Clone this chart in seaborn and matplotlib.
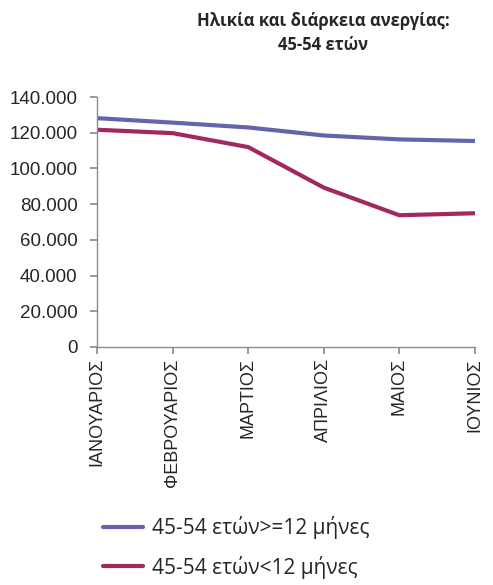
import matplotlib
matplotlib.use("Agg")
import matplotlib.pyplot as plt
import seaborn as sns
import pandas as pd
from matplotlib.ticker import FuncFormatter, MultipleLocator
from matplotlib.lines import Line2D

months = ["ΙΑΝΟΥΑΡΙΟΣ", "ΦΕΒΡΟΥΑΡΙΟΣ", "ΜΑΡΤΙΟΣ", "ΑΠΡΙΛΙΟΣ", "ΜΑΙΟΣ", "ΙΟΥΝΙΟΣ"]
long_term = [128200, 125700, 123000, 118500, 116300, 115400]
short_term = [121700, 119800, 112000, 89300, 73800, 74900]
series_names = ["45-54 ετών>=12 μήνες", "45-54 ετών<12 μήνες"]
colors = ["#6464AC", "#A2295E"]

df = pd.DataFrame({
    "month": months * 2,
    "x": list(range(len(months))) * 2,
    "value": long_term + short_term,
    "series": [series_names[0]] * 6 + [series_names[1]] * 6,
})

sns.set_theme(style="white")
plt.rcParams['font.family'] = ['Liberation Sans', 'DejaVu Sans']

fig = plt.figure(figsize=(4.93, 5.85), dpi=100)
ax = fig.add_axes([0.197, 0.407, 0.766, 0.427])

sns.lineplot(data=df, x="x", y="value", hue="series", palette=colors,
             hue_order=series_names, linewidth=3, ax=ax, legend=False, sort=False)

ax.set_xlim(0, len(months) - 1)
ax.set_ylim(0, 140000)
ax.yaxis.set_major_locator(MultipleLocator(20000))
ax.yaxis.set_major_formatter(FuncFormatter(lambda v, p: "0" if v == 0 else f"{int(v):,}".replace(",", ".")))
ax.set_xticks(range(len(months)))
ax.set_xticklabels(months, rotation=90, fontsize=13)
ax.tick_params(axis="y", labelsize=13.5, length=5, color="#8c8c8c", direction="out", left=True, pad=9)
ax.tick_params(axis="x", length=5, color="#8c8c8c", direction="out", bottom=True, pad=3)
ax.set_xlabel("")
ax.set_ylabel("")
for s in ["top", "right"]:
    ax.spines[s].set_visible(False)
for s in ["left", "bottom"]:
    ax.spines[s].set_color("#8c8c8c")
    ax.spines[s].set_linewidth(1)

fig.text(0.655, 0.944, "Ηλικία και διάρκεια ανεργίας:\n45-54 ετών", ha="center", va="center",
         fontsize=12, fontweight="bold", family=["Open Sans", "DejaVu Sans"], linespacing=1.45)

handles = [Line2D([0], [0], color=c, lw=3) for c in colors]
fig.legend(handles, series_names, loc="upper left", bbox_to_anchor=(0.209, 0.118), frameon=False,
           handlelength=1.9, handletextpad=0.45, labelspacing=0.8,
           borderpad=0, borderaxespad=0,
           prop={"family": ["Open Sans", "DejaVu Sans"], "size": 15})

fig.savefig("out.png", dpi=100)
